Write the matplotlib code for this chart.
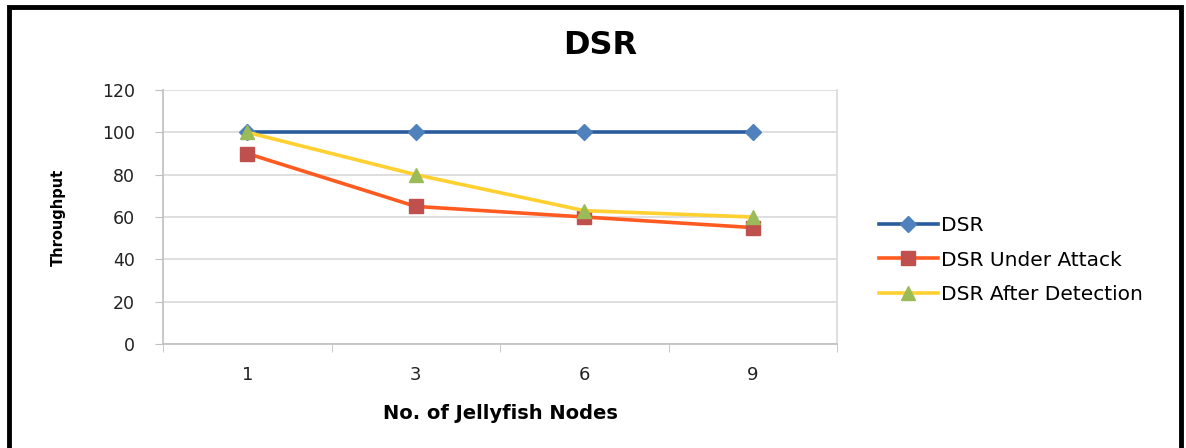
import matplotlib
matplotlib.use("Agg")
import matplotlib.pyplot as plt
from matplotlib.patches import Rectangle

categories = ["1", "3", "6", "9"]
dsr = [100, 100, 100, 100]
dsr_attack = [90, 65, 60, 55]
dsr_detect = [100, 80, 63, 60]
yticks = [0, 20, 40, 60, 80, 100, 120]

narrow = ['Liberation Sans Narrow', 'DejaVu Sans']

fig = plt.figure(figsize=(11.86, 4.48), dpi=100)
ax = fig.add_axes([163/1186, (448-344)/448, (837-163)/1186, (344-90)/448])

x = list(range(len(categories)))
ax.plot(x, dsr, color='#2A5B9C', lw=2.6, marker='D', ms=8.5,
        mfc='#4F81BD', mec='#4F81BD', label='DSR', zorder=3)
ax.plot(x, dsr_attack, color='#FF5A1F', lw=2.6, marker='s', ms=10,
        mfc='#C0504D', mec='#C0504D', label='DSR Under Attack', zorder=4)
ax.plot(x, dsr_detect, color='#FFD030', lw=2.6, marker='^', ms=10.5,
        mfc='#9BBB59', mec='#9BBB59', label='DSR After Detection', zorder=5)

ax.set_xlim(-0.5, len(categories) - 0.5)
ax.set_ylim(0, 120)
ax.set_yticks(yticks)
ax.set_yticklabels([str(v) for v in yticks], fontsize=12.5, color='#222222')
ax.set_xticks(x)
ax.set_xticklabels(categories, fontsize=13, family=narrow, color='#222222')
ax.set_xticks([i - 0.5 for i in range(len(categories) + 1)], minor=True)
ax.tick_params(axis='x', which='major', length=0, pad=16)
ax.tick_params(axis='x', which='minor', length=6, color='#BFBFBF', direction='out')
ax.tick_params(axis='y', length=6, color='#BFBFBF', pad=14)
ax.grid(axis='y', color='#D9D9D9', lw=1.2)
ax.set_axisbelow(True)
for s in ['top', 'right']:
    ax.spines[s].set_visible(False)
for s in ['left', 'bottom']:
    ax.spines[s].set_color('#BFBFBF')
    ax.spines[s].set_linewidth(1.2)
ax.plot([1, 1], [0, 1], transform=ax.transAxes, color='#D9D9D9', lw=1.2, clip_on=False)

ax.set_ylabel('Throughput', fontsize=10.5, fontweight='bold', family=narrow, labelpad=26)
ax.set_xlabel('No. of Jellyfish Nodes', fontsize=14, fontweight='bold', family=narrow, labelpad=14)

fig.text(600/1186, 1 - 45/448, 'DSR', ha='center', va='center', fontsize=23, fontweight='bold')

leg = fig.legend(loc='center left', bbox_to_anchor=(861/1186, 1 - 260/448), frameon=False,
                 fontsize=14.5, handlelength=2.9, labelspacing=0.78, handletextpad=0.15)

# outer frame
fig.patches.append(Rectangle((9/1186, -0.01), (1181-9)/1186, 1 - 7/448 + 0.01,
                             transform=fig.transFigure, fill=False, ec='black', lw=3.5))

fig.savefig('out.png', dpi=100)
